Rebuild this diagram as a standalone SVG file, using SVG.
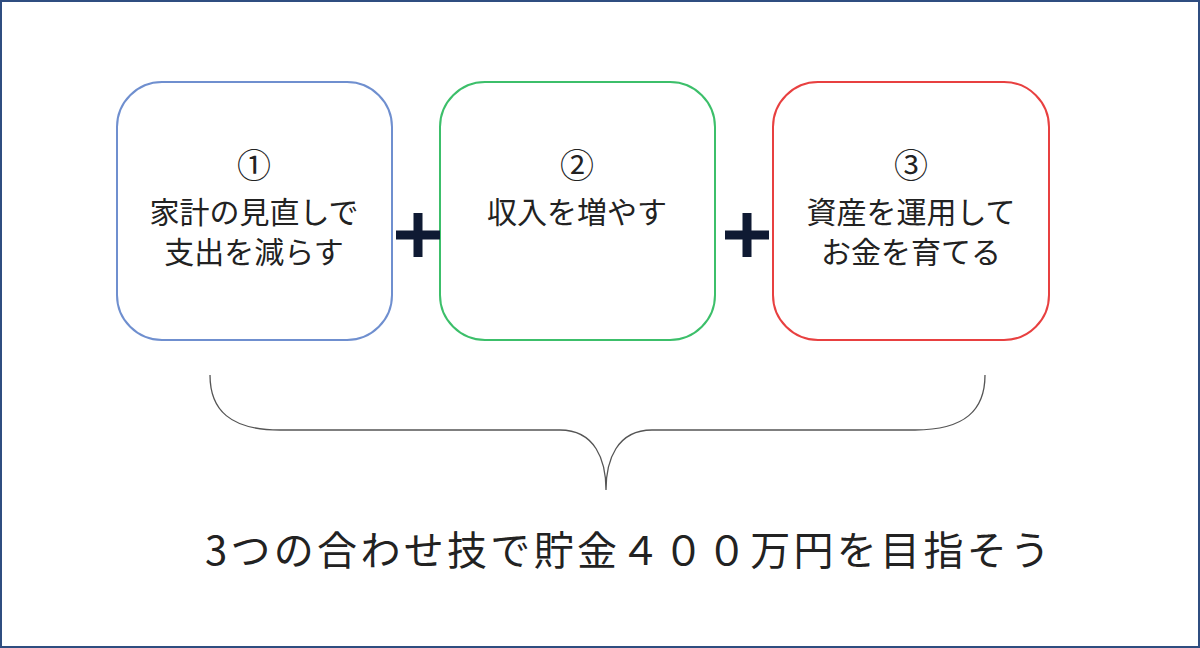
<svg xmlns="http://www.w3.org/2000/svg" width="1200" height="648" viewBox="0 0 1200 648">
<style>
.box{fill:#fff;stroke-width:2}
.t{font-family:"Noto Sans CJK JP","Noto Sans",sans-serif;font-size:30px;fill:#222;text-anchor:middle}
.n{font-family:"Noto Sans CJK JP",sans-serif;font-size:34px;fill:#222;text-anchor:middle}
.plus{stroke:#0f1a33;stroke-width:9}
</style>
<rect x="1" y="1" width="1198" height="646" fill="#fff" stroke="#2f4d80" stroke-width="2"/>
<g id="node1"><rect class="box" x="117" y="82" width="275" height="258" rx="45" stroke="#6f8fcf"/>
<text class="n" x="254" y="178">①</text><text class="t" x="254" y="223">家計の見直しで</text><text class="t" x="254" y="263">支出を減らす</text></g>
<g id="node2"><rect class="box" x="440" y="82" width="275" height="258" rx="45" stroke="#3cbf6a"/>
<text class="n" x="577" y="178">②</text><text class="t" x="577" y="223">収入を増やす</text></g>
<g id="node3"><rect class="box" x="773" y="82" width="276" height="258" rx="45" stroke="#e84040"/>
<text class="n" x="911" y="178">③</text><text class="t" x="911" y="223">資産を運用して</text><text class="t" x="911" y="263">お金を育てる</text></g>
<g id="connectors">
<path class="plus" d="M396 235H440M418 213V257M725 235H769M747 213V257"/>
<path d="M210 375C210 410 230 430 280 430H560C595 430 606 460 606 490C606 460 617 430 652 430H915C965 430 985 410 985 375" fill="none" stroke="#555" stroke-width="1.3"/>
</g>
<text x="205" y="565" style="font-family:'Noto Sans CJK JP',sans-serif;font-size:40px;fill:#222" textLength="845">3つの合わせ技で貯金４００万円を目指そう</text>
</svg>
